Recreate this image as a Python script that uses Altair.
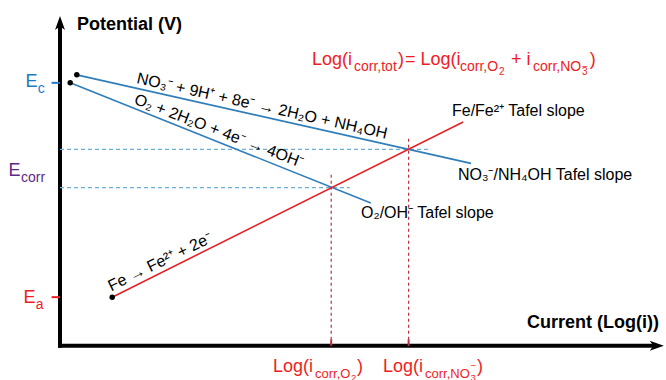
import altair as alt
import pandas as pd

# ---------------- data (schematic Evans diagram, arbitrary units) ----------------
# Tafel lines: start / end points (x = log(i), y = potential)
line_names = ["NO3-/NH4OH", "O2/OH-", "Fe/Fe2+"]
line_x1 = [0.28, 0.17, 0.87]
line_y1 = [7.13, 6.92, 1.28]
line_x2 = [6.85, 5.18, 6.72]
line_y2 = [4.80, 3.76, 5.89]

E_c = 6.92
E_a = 1.28
E_corr_levels = [5.17, 4.16]          # two corrosion potentials
E_corr_guide_end = [6.15, 4.83]       # extent of dashed guides (log i)
i_corr_values = [4.52, 5.81]          # corrosion currents (log i)
i_corr_guide_top = [4.57, 5.49]       # extent of dashed guides (E)

x_axis_end = 9.9
y_axis_end = 8.42

reaction_labels = ["NO₃⁻ + 9H⁺ + 8e⁻ → 2H₂O + NH₄OH",
                   "O₂ + 2H₂O + 4e⁻ → 4OH⁻",
                   "Fe → Fe²⁺ + 2e⁻"]
slope_labels = ["Fe/Fe²⁺ Tafel slope", "NO₃⁻/NH₄OH Tafel slope", "O₂/OH⁻ Tafel slope"]
axis_titles = ["Potential (V)", "Current (Log(i))"]
formula_main = ["Log(i", ")", "= Log(i", "+ i", ")"]
formula_sub = ["corr,tot", "corr,O", "corr,NO"]
formula_subsub = ["2", "3"]
bottom_main = ["Log(i", ")", "Log(i", ")"]
bottom_sub = ["corr,O", "corr,NO"]
bottom_subsub = ["2", "3"]
charge_minus = ["−"]
e_main = ["E", "E", "E"]
e_sub = ["c", "corr", "a"]

# ---------------- styling / layout ----------------
BLUE = "#2f7db9"
RED_LINE = "#e4222b"
RED_TXT = "#f01c24"
DASH_BLUE = "#6baed6"
DASH_RED = "#b8323f"
E_BLUE = "#1b7bc4"
PURPLE = "#5b2a86"
FONT = "Liberation Sans"

xs = alt.Scale(domain=[-1.0, 10.1], nice=False, zero=False)
ys = alt.Scale(domain=[-0.9, 9.1], nice=False, zero=False)


def seg_enc():
    return dict(
        x=alt.X("x:Q", scale=xs, axis=None),
        y=alt.Y("y:Q", scale=ys, axis=None),
        x2="x2:Q",
        y2="y2:Q",
    )


def pt_enc():
    return dict(
        x=alt.X("x:Q", scale=xs, axis=None),
        y=alt.Y("y:Q", scale=ys, axis=None),
    )


layers = []

# axes
axes_df = pd.DataFrame({"x": [0, 0], "y": [0, 0], "x2": [0, x_axis_end], "y2": [y_axis_end, 0]})
layers.append(alt.Chart(axes_df).mark_rule(color="black", strokeWidth=4, strokeCap="square").encode(**seg_enc()))

arrow_path = "M0,-1L0.62,0.75L0,0.3L-0.62,0.75Z"
layers.append(alt.Chart(pd.DataFrame({"x": [0.0], "y": [y_axis_end + 0.05]}))
              .mark_point(shape=arrow_path, filled=True, opacity=1, color="black", size=260, angle=0)
              .encode(**pt_enc()))
layers.append(alt.Chart(pd.DataFrame({"x": [x_axis_end + 0.03], "y": [0.0]}))
              .mark_point(shape=arrow_path, filled=True, opacity=1, color="black", size=260, angle=90)
              .encode(**pt_enc()))

# dashed guides
hd = pd.DataFrame({"x": [0, 0], "x2": E_corr_guide_end, "y": E_corr_levels, "y2": E_corr_levels})
layers.append(alt.Chart(hd).mark_rule(color=DASH_BLUE, strokeWidth=1.2, strokeDash=[4, 3]).encode(**seg_enc()))
vd = pd.DataFrame({"x": i_corr_values, "x2": i_corr_values, "y": [0, 0], "y2": i_corr_guide_top})
layers.append(alt.Chart(vd).mark_rule(color=DASH_RED, strokeWidth=1.2, strokeDash=[3, 3]).encode(**seg_enc()))
vt = pd.DataFrame({"x": i_corr_values, "x2": i_corr_values, "y": [0, 0], "y2": [0.17, 0.17]})
layers.append(alt.Chart(vt).mark_rule(color=DASH_RED, strokeWidth=2).encode(**seg_enc()))

# y ticks for E_c and E_a
layers.append(alt.Chart(pd.DataFrame({"x": [-0.14], "x2": [0], "y": [E_c], "y2": [E_c]}))
              .mark_rule(color=E_BLUE, strokeWidth=2).encode(**seg_enc()))
layers.append(alt.Chart(pd.DataFrame({"x": [-0.14], "x2": [0], "y": [E_a], "y2": [E_a]}))
              .mark_rule(color=RED_TXT, strokeWidth=2).encode(**seg_enc()))

# Tafel lines
lines_df = pd.DataFrame({"name": line_names, "x": line_x1, "y": line_y1, "x2": line_x2, "y2": line_y2})
layers.append(alt.Chart(lines_df.iloc[:2]).mark_rule(color=BLUE, strokeWidth=1.6).encode(**seg_enc()))
layers.append(alt.Chart(lines_df.iloc[2:]).mark_rule(color=RED_LINE, strokeWidth=1.6).encode(**seg_enc()))

# start dots
dots = pd.DataFrame({"x": line_x1, "y": line_y1})
layers.append(alt.Chart(dots).mark_point(shape="circle", filled=True, opacity=1, color="black", size=30)
              .encode(**pt_enc()))


def text_layer(df, **kw):
    base = dict(font=FONT, align="left", baseline="alphabetic")
    base.update(kw)
    return alt.Chart(df).mark_text(**base).encode(
        x=alt.X("x:Q", scale=xs, axis=None),
        y=alt.Y("y:Q", scale=ys, axis=None),
        text="t:N",
    )


# axis titles
layers.append(text_layer(pd.DataFrame({"t": axis_titles, "x": [0.283, 7.783], "y": [8.31, 0.468]}),
                         fontSize=18, fontWeight="bold", color="black"))

# E labels
e_colors = [E_BLUE, PURPLE, RED_TXT]
e_x_main = [-0.573, -0.86, -0.61]
e_y_main = [6.81, 4.468, 1.126]
e_x_sub = [-0.37, -0.65, -0.405]
e_y_sub = [6.653, 4.31, 0.968]
for i in range(3):
    layers.append(text_layer(pd.DataFrame({"t": [e_main[i]], "x": [e_x_main[i]], "y": [e_y_main[i]]}),
                             fontSize=18, color=e_colors[i]))
    layers.append(text_layer(pd.DataFrame({"t": [e_sub[i]], "x": [e_x_sub[i]], "y": [e_y_sub[i]]}),
                             fontSize=14, color=e_colors[i]))

# formula at top
layers.append(text_layer(pd.DataFrame({"t": formula_main, "x": [4.2, 5.633, 5.75, 7.517, 8.83],
                                       "y": [7.389] * 5}), fontSize=18, color=RED_TXT))
layers.append(text_layer(pd.DataFrame({"t": formula_sub, "x": [4.9, 6.667, 7.883],
                                       "y": [7.232] * 3}), fontSize=14, color=RED_TXT))
layers.append(text_layer(pd.DataFrame({"t": formula_subsub, "x": [7.317, 8.7],
                                       "y": [7.126, 7.126]}), fontSize=10, color=RED_TXT))
layers.append(text_layer(pd.DataFrame({"t": charge_minus, "x": [8.7], "y": [7.27]}),
                         fontSize=10, color=RED_TXT))

# bottom labels
layers.append(text_layer(pd.DataFrame({"t": bottom_main, "x": [3.55, 4.95, 5.383, 6.95],
                                       "y": [-0.689] * 4}), fontSize=18, color=RED_TXT))
layers.append(text_layer(pd.DataFrame({"t": bottom_sub, "x": [4.25, 6.083],
                                       "y": [-0.847] * 2}), fontSize=13, color=RED_TXT))
layers.append(text_layer(pd.DataFrame({"t": bottom_subsub, "x": [4.85, 6.842],
                                       "y": [-0.93, -0.93]}), fontSize=9.5, color=RED_TXT))
layers.append(text_layer(pd.DataFrame({"t": charge_minus, "x": [6.842], "y": [-0.6]}),
                         fontSize=9.5, color=RED_TXT))

# Tafel slope labels
layers.append(text_layer(pd.DataFrame({"t": slope_labels, "x": [6.533, 6.633, 5.017],
                                       "y": [6.047, 4.363, 3.363]}), fontSize=16, color="black"))

# reaction labels along the lines
r_x = [3.367, 2.65, 1.667]
r_y = [6.311, 5.653, 2.205]
r_ang = [12.6, 21, 334]
for i in range(3):
    layers.append(text_layer(pd.DataFrame({"t": [reaction_labels[i]], "x": [r_x[i]], "y": [r_y[i]]}),
                             fontSize=16, color="black", align="center", baseline="middle", angle=r_ang[i]))

chart = alt.layer(*layers).properties(
    width=666, height=380, padding=0,
    autosize=alt.AutoSizeParams(type="none"),
    background="white",
).configure_view(stroke=None)

chart.save("out.html", embed_options={"renderer": "svg", "actions": False})
